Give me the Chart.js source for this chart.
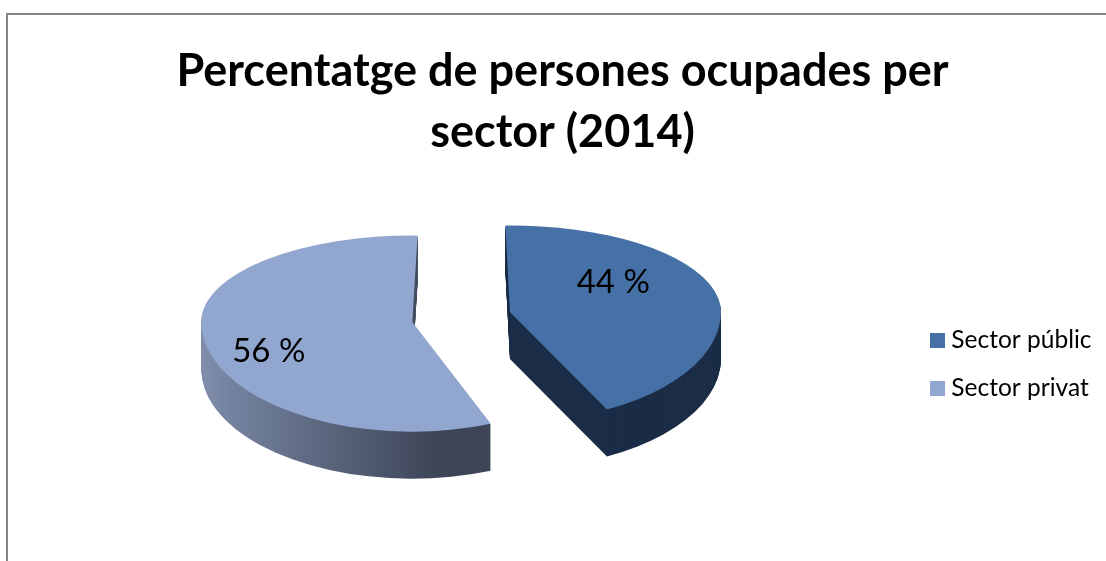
<!DOCTYPE html>
<html lang="ca">
<head>
<meta charset="utf-8">
<title>Percentatge de persones ocupades per sector (2014)</title>
<script src="https://cdn.jsdelivr.net/npm/chart.js@4"></script>
<style>
html,body{margin:0;padding:0;width:1106px;height:561px;overflow:hidden;background:#fff}
#frame{position:absolute;left:6px;top:13px;width:1109px;height:560px;border-left:2px solid #868686;border-top:2px solid #868686}
canvas{display:block}
</style>
</head>
<body>
<div id="frame"><canvas id="c" width="1109" height="560"></canvas></div>
<script>
const categories = ['Sector públic', 'Sector privat'];
const shares = [44, 56];
const titleLines = ['Percentatge de persones ocupades per', 'sector (2014)'];

const sliceColors = ['#4571a6', '#92a7cf'];
const FONT = 'Lato, Carlito, "Open Sans", sans-serif';
const DEG = Math.PI / 180;
const view = {centerX: 453.5, centerY: 302, kTop: 0.41, kBottom: 0.52, depth: 47, shift: 50};
const labelPolar = [{angle: 54.7, r: 0.60}, {angle: 248.7, r: 0.73}];
// perspective of the 3D view: small angular correction of each slice's edges, in degrees
const perspective = [{start: -2.6, end: -4.4}, {start: -2.4, end: 3.6}];

function wallFill(ctx, index) {
  if (index === 0) return '#1b2d46';
  const g = ctx.createLinearGradient(192, 0, 483, 0);
  g.addColorStop(0, '#9aa8c4');
  g.addColorStop(0.3, '#74829f');
  g.addColorStop(1, '#3d4557');
  return g;
}

function legendSwatch(color) {
  const s = document.createElement('canvas');
  s.width = 15;
  s.height = 15;
  const c = s.getContext('2d');
  c.fillStyle = color;
  c.fillRect(0, 0, 15, 15);
  return s;
}

const tiltedPie = {
  id: 'tiltedPie',
  beforeDatasetsDraw(chart) {
    const ctx = chart.ctx;
    const arcs = chart.getDatasetMeta(0).data;
    const W = chart.width, H = chart.height;
    const place = (arc, i) => {
      const start = arc.startAngle + perspective[i].start * DEG;
      const end = arc.endAngle + perspective[i].end * DEG;
      const mid = (start + end) / 2;
      const dy = Math.sin(mid) * view.shift;
      const apexY = Math.round(view.centerY + dy * (dy < 0 ? view.kTop : view.kBottom));
      return {dy, apexY, mid, start, end};
    };
    const drawOnce = (arc, i, fill, lift) => {
      const {dy, apexY, start, end} = place(arc, i);
      const saved = {options: arc.options, outerRadius: arc.outerRadius, startAngle: arc.startAngle, endAngle: arc.endAngle};
      // the arc element grows its radius by a share of the offset; cancel that so both slices match
      const fix = 1 - Math.sin(Math.min(Math.PI, arc.circumference));
      arc.outerRadius = saved.outerRadius - view.shift * fix;
      arc.startAngle = start;
      arc.endAngle = end;
      arc.options = {
        backgroundColor: fill, borderColor: fill, borderWidth: 0, borderAlign: 'center',
        borderJoinStyle: 'round', borderDash: [], borderDashOffset: 0, borderRadius: 0,
        offset: view.shift * 4, spacing: 0, circular: true, selfJoin: false
      };
      const ex = view.centerX - arc.x;
      [[view.kTop, 0, apexY + lift], [view.kBottom, apexY + lift, H]].forEach(([k, y0, y1]) => {
        ctx.save();
        ctx.beginPath();
        ctx.rect(0, y0, W, y1 - y0);
        ctx.clip();
        ctx.transform(1, 0, 0, k, ex, apexY + lift - k * (arc.y + dy));
        arc.draw(ctx);
        ctx.restore();
      });
      Object.assign(arc, saved);
    };
    arcs.forEach((arc, i) => {
      const fill = wallFill(ctx, i);
      for (let d = view.depth; d >= 1; d--) drawOnce(arc, i, fill, d);
    });
    arcs.forEach((arc, i) => drawOnce(arc, i, sliceColors[i], 0));

    ctx.save();
    ctx.fillStyle = '#000';
    ctx.font = '400 33px ' + FONT;
    ctx.textAlign = 'center';
    ctx.textBaseline = 'middle';
    arcs.forEach((arc, i) => {
      const {apexY, mid} = place(arc, i);
      const apexX = view.centerX + Math.cos(mid) * view.shift;
      const a = labelPolar[i].angle * DEG;
      const R = arc.outerRadius;
      const ry = -Math.cos(a) * R * labelPolar[i].r;
      const x = apexX + Math.sin(a) * R * labelPolar[i].r;
      const y = apexY + ry * (ry < 0 ? view.kTop : view.kBottom);
      ctx.fillText(shares[i] + ' %', x, y);
    });
    ctx.restore();
    return false;
  }
};

new Chart(document.getElementById('c'), {
  type: 'pie',
  data: {
    labels: categories,
    datasets: [{data: shares, backgroundColor: sliceColors, borderWidth: 0}]
  },
  options: {
    responsive: false,
    animation: false,
    rotation: 0,
    radius: 211,
    layout: {padding: {left: 15.5, right: 15.5, top: 0, bottom: 30}},
    plugins: {
      tooltip: {enabled: false},
      title: {
        display: true,
        text: titleLines,
        color: '#000',
        font: {family: FONT, size: 45, weight: '700', lineHeight: 1.356},
        padding: {top: 26, bottom: 20}
      },
      legend: {
        position: 'right',
        align: 'center',
        fullSize: false,
        labels: {
          usePointStyle: true, pointStyleWidth: 2.5, boxHeight: 15, padding: 23.5, color: '#000',
          font: {family: FONT, size: 24.5},
          generateLabels(chart) {
            return Chart.overrides.pie.plugins.legend.labels.generateLabels(chart)
              .map((item, i) => Object.assign(item, {pointStyle: legendSwatch(sliceColors[i])}));
          }
        }
      }
    }
  },
  plugins: [tiltedPie]
});
</script>
</body>
</html>
